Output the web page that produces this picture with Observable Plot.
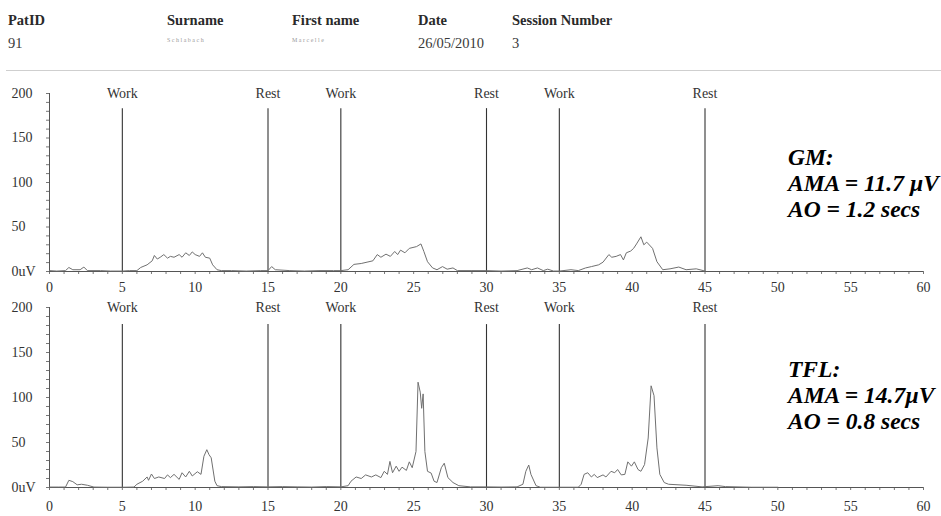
<!DOCTYPE html>
<html><head><meta charset="utf-8">
<script src="https://cdn.jsdelivr.net/npm/d3@7"></script>
<script src="https://cdn.jsdelivr.net/npm/@observablehq/plot@0.6"></script>
<style>
body{margin:0;background:#fff;}
#page{position:relative;width:941px;height:516px;overflow:hidden;font-family:"Liberation Serif","Times New Roman",Tinos,"DejaVu Serif",serif;color:#333;background:#fff;}
.h{position:absolute;font-size:14.5px;white-space:nowrap;line-height:16px;}
.b{font-weight:bold;color:#2a2a2a;}
.v{color:#3a3a3a;}
.tiny{position:absolute;font-size:6px;line-height:6px;color:#9a9a9a;letter-spacing:1.5px;white-space:nowrap;}
.rule{position:absolute;left:6px;right:0;top:70px;height:0;border-top:1px solid #cfcfcf;}
.ann{position:absolute;left:788px;font-style:italic;font-weight:bold;font-size:23.5px;line-height:26px;color:#000;white-space:nowrap;}
svg{position:absolute;left:0;}
</style></head><body><div id="page"></div>
<script>
// ---- data ----
const headerLabels = ["PatID", "Surname", "First name", "Date", "Session Number"];
const headerValues = ["91", "Schlabach", "Marcelle", "26/05/2010", "3"];

const xTickLabels = [0, 5, 10, 15, 20, 25, 30, 35, 40, 45, 50, 55, 60];
const xMinorTicks = d3.range(0, 61, 1);
const yTickValues = [0, 50, 100, 150, 200];
const yTickLabels = ["0uV", "50", "100", "150", "200"];
const yMinorTicks = d3.range(0, 201, 10);

const eventTimes = [5, 15, 20, 30, 35, 45];
const eventLabels = ["Work", "Rest", "Work", "Rest", "Work", "Rest"];

const gmLabel = ["GM:", "AMA = 11.7 \u00b5V", "AO = 1.2 secs"];
const tflLabel = ["TFL:", "AMA = 14.7\u00b5V", "AO = 0.8 secs"];

// GM trace: [time (s), amplitude (uV)]
const gmTrace = [[0,1],[0.5,0.5],[1.1,1],[1.33,4.5],[1.6,2],[2.1,2],[2.36,5],[2.6,1],[3.5,1],[4.2,0.5],[5,0.5],[5.5,1],[6,1],[6.26,4.5],[6.7,7.5],[7.05,12],[7.2,18],[7.4,14],[7.6,16],[7.85,19],[8.1,15],[8.3,17],[8.55,16],[8.9,19],[9.1,16],[9.35,21],[9.6,18],[9.8,22],[10,19],[10.3,17],[10.5,21],[10.7,16],[11,15],[11.2,7.5],[11.5,2],[11.8,1],[12.5,1],[13.5,0.5],[14.5,1],[15,1],[15.25,5.5],[15.5,2],[16.5,1],[17.5,0.5],[18.5,1],[19.5,1],[20,1],[20.5,2],[20.9,8],[21.4,9],[21.8,10.5],[22.2,12],[22.5,19],[22.75,16],[23.1,19.5],[23.4,17],[23.7,22.5],[23.9,19],[24.1,24],[24.4,21],[24.7,26],[25.2,28],[25.5,31],[25.7,22.5],[25.95,11],[26.3,4],[26.6,2],[26.98,5.5],[27.3,2.6],[27.7,4],[28,1],[29,1],[30,1],[31,0.5],[32.1,1],[32.8,4],[33.1,2],[33.5,4],[33.9,1],[34.2,2.6],[34.6,0.5],[35,0.5],[35.8,2],[36.3,1],[36.8,4],[37.2,5.5],[37.7,7.5],[38,10.5],[38.4,19],[38.6,16],[38.9,17],[39.2,19],[39.4,13],[39.6,21],[39.9,23],[40.1,26],[40.3,31],[40.6,39],[40.8,30],[41,33],[41.4,26],[41.7,11],[42.1,2],[42.6,3],[43.2,5],[43.7,2],[44.4,3],[45,0.5]];

// TFL trace: [time (s), amplitude (uV)]
const tflTrace = [[0,0.5],[0.6,0.5],[1.1,0.5],[1.33,8],[1.6,6.5],[1.9,3],[2.2,3.6],[2.6,2.5],[3.05,0.5],[4,0.3],[5,0.3],[5.8,0.5],[6,3.6],[6.4,7],[6.7,11.7],[6.8,8],[7,15],[7.2,10],[7.5,11.7],[7.9,10],[8.1,14],[8.3,11],[8.55,14.6],[8.9,9],[9.1,16.4],[9.35,11.7],[9.6,18],[9.8,12.8],[10.15,17.5],[10.4,14.6],[10.6,34.7],[10.8,42],[10.95,36.5],[11.1,33],[11.35,7],[11.5,2],[11.8,1],[13,0.7],[14,1],[15,0.7],[16,1],[17,0.7],[18,0.5],[19,1],[20,0.7],[20.5,2],[20.7,7],[21.05,11.7],[21.4,10],[21.7,14],[22.1,11.7],[22.4,14],[22.75,11],[22.98,18],[23.2,14.6],[23.37,29],[23.55,16.4],[23.8,23.7],[24,18],[24.2,22.6],[24.5,19],[24.7,28.5],[24.9,22],[25.16,40],[25.3,117],[25.45,106],[25.55,88],[25.65,104],[25.77,40],[25.95,18],[26.2,16],[26.4,7],[26.6,5.5],[26.9,22],[27.1,27],[27.35,11],[27.7,5.5],[28.1,2],[28.9,0.7],[30,0.7],[31,0.5],[32.1,0.7],[32.5,3.6],[32.7,18],[32.9,25],[33.05,14.6],[33.4,2],[33.7,0.3],[35,0.3],[36.3,0.3],[36.5,3.6],[36.7,14.6],[36.95,16.4],[37.2,11.7],[37.4,14.6],[37.6,11],[38,14],[38.2,11.7],[38.55,18],[38.8,16.4],[39,20],[39.25,14],[39.5,14.6],[39.7,28.5],[39.95,23.7],[40.15,28.5],[40.4,20],[40.6,18],[40.85,25.5],[41.1,55],[41.3,113],[41.5,102],[41.7,44],[41.9,14.6],[42.2,5.5],[42.5,3.6],[43.7,2.5],[44.8,0.7],[45.9,2],[46.4,1],[48.2,0.3],[50,0.3]];

// ---- layout ----
const FONT = "'Liberation Serif', 'Times New Roman', Tinos, 'DejaVu Serif', serif";
const page = document.getElementById("page");
const headerX = [8, 167, 292, 418, 512];
headerLabels.forEach((t, i) => {
  const s = document.createElement("div");
  s.className = "h b"; s.style.left = headerX[i] + "px"; s.style.top = "12px"; s.textContent = t;
  page.appendChild(s);
});
headerValues.forEach((t, i) => {
  const s = document.createElement("div");
  if (i === 1 || i === 2) {
    s.className = "tiny"; s.style.left = headerX[i] + "px"; s.style.top = "37px";
  } else {
    s.className = "h v"; s.style.left = headerX[i] + "px"; s.style.top = "35px";
  }
  s.textContent = t;
  page.appendChild(s);
});
const r = document.createElement("div"); r.className = "rule"; page.appendChild(r);

const events = eventTimes.map((t, i) => ({t, label: eventLabels[i]}));
const yTicks = yTickValues.map((v, i) => ({v, label: yTickLabels[i]}));

function panel(trace, top, height, mt, mb, lineTop, pad) {
  const svg = Plot.plot({
    width: 941, height,
    marginLeft: 49, marginRight: 18, marginTop: mt, marginBottom: mb,
    x: {domain: [0, 60]},
    y: {domain: [0, 200]},
    style: {fontFamily: FONT, fontSize: "14px", color: "#333", background: "transparent", overflow: "visible"},
    marks: [
      Plot.axisX({ticks: xMinorTicks, tickSize: 3, tickFormat: () => "", label: null, stroke: "#777"}),
      Plot.axisX({ticks: xTickLabels, tickSize: 0, tickPadding: pad, tickFormat: d => String(d), label: null, fill: "#333"}),
      Plot.axisY({ticks: yMinorTicks, tickSize: 3, tickFormat: () => "", label: null, stroke: "#777"}),
      Plot.text(yTicks, {y: "v", text: "label", frameAnchor: "left", textAnchor: "start", dx: -38, fill: "#333"}),
      Plot.ruleY([0], {stroke: "#555"}),
      Plot.ruleX([0], {stroke: "#555"}),
      Plot.ruleX(events, {x: "t", y1: () => 0, y2: () => lineTop, stroke: "#333", strokeWidth: 1.1}),
      Plot.text(events, {x: "t", y: () => 200, text: "label", fill: "#333"}),
      Plot.line(trace, {x: d => d[0], y: d => d[1], stroke: "#707070", strokeWidth: 1})
    ]
  });
  svg.style.top = top + "px";
  page.appendChild(svg);
}

panel(gmTrace, 78, 220, 15, 27, 183, 11);
panel(tflTrace, 295, 221, 12, 29, 181, 14);

function annot(lines, top) {
  const d = document.createElement("div");
  d.className = "ann"; d.style.top = top + "px";
  lines.forEach(l => { const e = document.createElement("div"); e.textContent = l; d.appendChild(e); });
  page.appendChild(d);
}
annot(gmLabel, 144);
annot(tflLabel, 356);
</script></body></html>
